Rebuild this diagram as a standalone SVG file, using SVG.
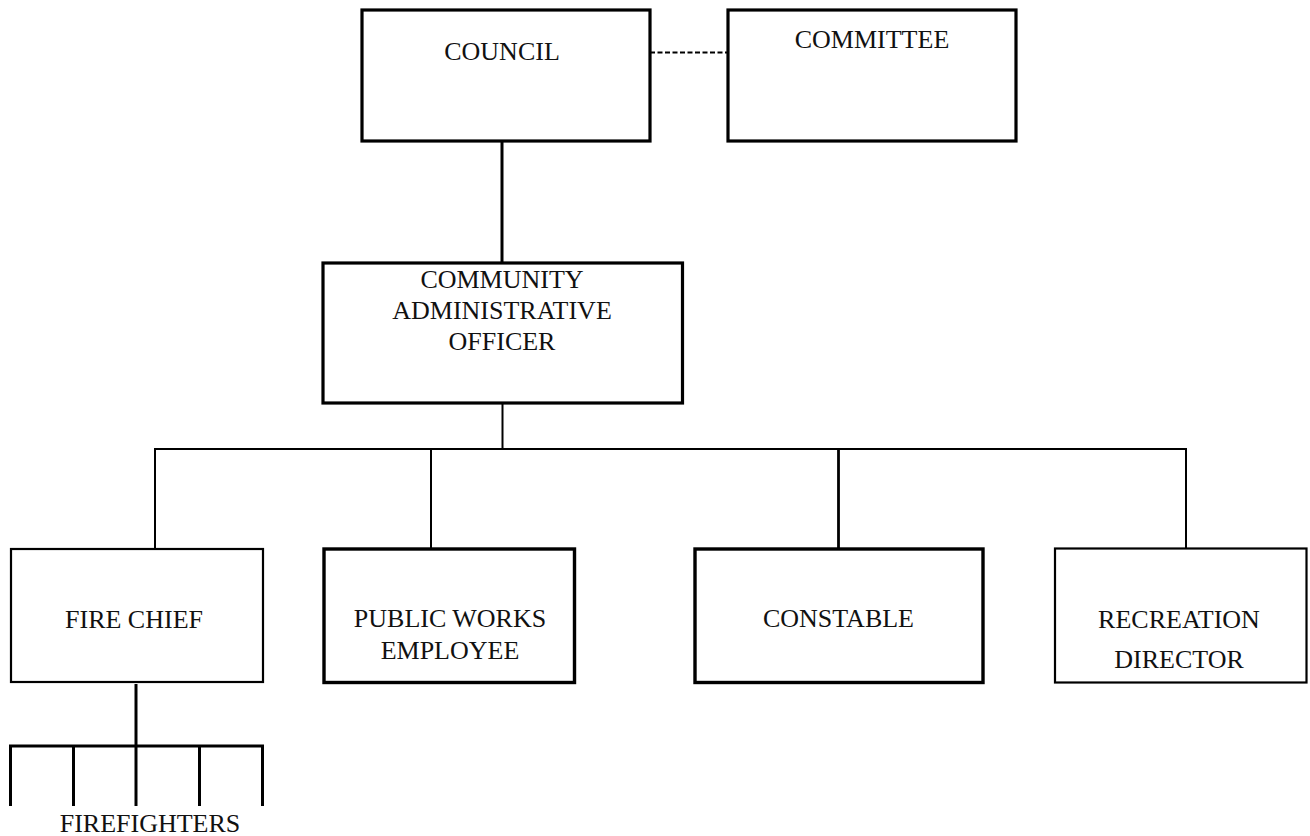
<svg xmlns="http://www.w3.org/2000/svg" width="1310" height="836" viewBox="0 0 1310 836">
  <style>
    .box { fill: #ffffff; stroke: #000000; }
    .thick { stroke-width: 3.2; }
    .thin { stroke-width: 2.2; }
    .lbl { font-family: "Liberation Serif", "Times New Roman", serif; font-size: 26px; fill: #111111; text-anchor: middle; }
    .ln { stroke: #000000; fill: none; }
  </style>
  <rect width="1310" height="836" fill="#ffffff"/>
  <g id="connectors">
    <line class="ln" x1="650" y1="52.5" x2="728" y2="52.5" stroke-width="2" stroke-dasharray="5,2.5"/>
    <line class="ln" x1="502" y1="141" x2="502" y2="263" stroke-width="3"/>
    <line class="ln" x1="502.5" y1="403" x2="502.5" y2="449" stroke-width="2"/>
    <line class="ln" x1="154" y1="449" x2="1187" y2="449" stroke-width="2"/>
    <line class="ln" x1="155" y1="449" x2="155" y2="549" stroke-width="2"/>
    <line class="ln" x1="431" y1="449" x2="431" y2="549" stroke-width="2"/>
    <line class="ln" x1="838.5" y1="449" x2="838.5" y2="549" stroke-width="2.8"/>
    <line class="ln" x1="1186" y1="449" x2="1186" y2="549" stroke-width="2"/>
    <line class="ln" x1="136" y1="684" x2="136" y2="746" stroke-width="3"/>
    <line class="ln" x1="9" y1="746" x2="264" y2="746" stroke-width="3"/>
    <line class="ln" x1="10.5" y1="746" x2="10.5" y2="806" stroke-width="3"/>
    <line class="ln" x1="73.5" y1="746" x2="73.5" y2="806" stroke-width="3"/>
    <line class="ln" x1="136" y1="746" x2="136" y2="806" stroke-width="3"/>
    <line class="ln" x1="199.5" y1="746" x2="199.5" y2="806" stroke-width="3"/>
    <line class="ln" x1="262.5" y1="746" x2="262.5" y2="806" stroke-width="3"/>
  </g>
  <g id="council">
    <rect class="box thick" x="362" y="10" width="288" height="131"/>
    <text class="lbl" x="502" y="60">COUNCIL</text>
  </g>
  <g id="committee">
    <rect class="box thick" x="728" y="10" width="288" height="131"/>
    <text class="lbl" x="872" y="48">COMMITTEE</text>
  </g>
  <g id="cao">
    <rect class="box thick" x="323" y="263" width="359.5" height="140"/>
    <text class="lbl" x="502" y="288">COMMUNITY</text>
    <text class="lbl" x="502" y="319">ADMINISTRATIVE</text>
    <text class="lbl" x="502" y="350">OFFICER</text>
  </g>
  <g id="fire-chief">
    <rect class="box thin" x="11" y="549" width="252" height="133"/>
    <text class="lbl" x="134" y="628">FIRE CHIEF</text>
  </g>
  <g id="public-works">
    <rect class="box" stroke-width="3.4" x="324" y="549" width="250.5" height="133.5"/>
    <text class="lbl" x="450" y="627">PUBLIC WORKS</text>
    <text class="lbl" x="450" y="659">EMPLOYEE</text>
  </g>
  <g id="constable">
    <rect class="box" stroke-width="3.4" x="695" y="549" width="288" height="133.5"/>
    <text class="lbl" x="838.5" y="627">CONSTABLE</text>
  </g>
  <g id="recreation">
    <rect class="box thin" x="1055" y="548.5" width="251.5" height="134"/>
    <text class="lbl" x="1179" y="628">RECREATION</text>
    <text class="lbl" x="1179" y="668">DIRECTOR</text>
  </g>
  <g id="firefighters">
    <text class="lbl" x="150" y="832">FIREFIGHTERS</text>
  </g>
</svg>
